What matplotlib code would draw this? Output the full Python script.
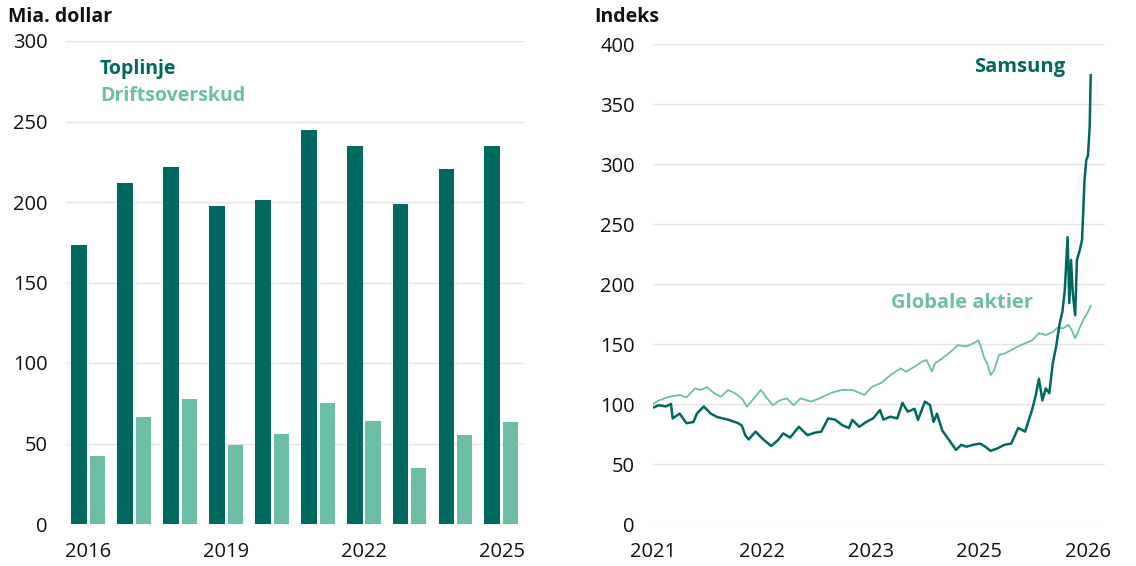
import matplotlib
matplotlib.use("Agg")
import matplotlib.pyplot as plt
import numpy as np

plt.rcParams['font.family'] = ['Open Sans', 'DejaVu Sans']

# ---------------- data ----------------
years = [2016, 2017, 2018, 2019, 2020, 2021, 2022, 2023, 2024, 2025]
year_ticks = ["2016", "2019", "2022", "2025"]
toplinje = [173.5, 211.5, 221.5, 197.5, 201, 244.5, 234.5, 198.5, 220.5, 234.5]
driftsoverskud = [42.5, 66.5, 77.5, 49, 56, 75, 64, 34.5, 55, 63.5]

# right panel: months since start (axis spans 60 months)
line_ticks = ["2021", "2022", "2023", "2025", "2026"]
samsung_t = [0, 0.81, 1.76, 2.48, 2.71, 3.67, 4.62, 5.57, 6.05, 7.0, 7.95, 8.9,
             10.33, 11.76, 12.24, 12.71, 13.19, 14.14, 15.1, 16.29, 17.24, 17.95,
             18.9, 20.1, 21.29, 22.24, 23.19, 24.14, 25.1, 26.05, 27.0, 27.48,
             28.43, 29.38, 30.33, 31.29, 31.76, 32.71, 33.67, 34.38, 35.1, 36.05,
             36.52, 37.48, 38.19, 38.67, 39.14, 39.86, 40.81, 41.76, 42.48, 43.19,
             44.14, 45.1, 45.81, 46.52, 47.48, 48.43, 49.38, 50.33, 51.29, 52.24,
             52.71, 53.19, 53.67, 54.14, 54.62, 55.1, 55.57, 56.05, 56.43, 56.76,
             57.14, 57.38, 57.62, 57.86, 58.19, 58.43, 58.81, 59.14, 59.48, 59.71,
             59.95, 60.19, 60.33]
samsung = [97, 99, 98, 100, 88, 92, 84, 85, 92, 98, 92, 89,
           87, 84, 82, 74, 70.5, 77, 71, 65, 70, 75.5,
           72, 81, 74, 76, 77, 88, 87, 82.5, 80, 86.7,
           81, 85, 88, 95, 87, 89.4, 88, 101, 93.6, 96,
           86.7, 102, 99, 85, 92, 78, 70, 61.7, 66, 64.4,
           66, 67, 64.4, 61, 63, 66, 67, 80, 77, 95,
           106, 121, 103, 113, 109, 134, 148, 167, 177, 195,
           239, 184, 220, 192, 174, 220, 228, 237, 287, 303,
           307, 331, 374]
globale_t = [0, 0.81, 2.24, 3.67, 4.62, 5.81, 6.52, 7.48, 8.43, 9.38, 10.33,
             11.29, 12.24, 12.95, 13.9, 14.86, 15.57, 16.52, 17.48, 18.43, 19.38,
             20.33, 21.76, 22.95, 24.62, 26.05, 27.48, 29.14, 30.1, 31.52, 32.71,
             34.14, 34.86, 36.05, 37.0, 37.71, 38.43, 38.9, 39.86, 41.05, 42.0,
             43.19, 44.14, 44.86, 45.33, 45.67, 46.05, 46.52, 47.0, 47.71, 48.43,
             49.38, 50.33, 51.29, 52.24, 53.19, 54.14, 55.1, 55.81, 56.52, 57.24,
             57.71, 58.19, 58.67, 59.38, 59.86, 60.33]
globale = [100, 103, 106, 107.5, 105.5, 113, 111.7, 114, 109, 106, 111.7,
           109, 104.7, 97.8, 104.7, 111.7, 106, 99, 103, 104.7, 99,
           104.7, 102, 104.7, 109.4, 111.7, 111.7, 107.5, 114, 117.8, 124,
           129.7, 126.9, 131, 135, 136.7, 127, 134, 138, 143.6, 149,
           148, 150.6, 153, 145, 138, 134, 124, 128, 141, 142,
           145, 148, 150.6, 153, 159, 157.5, 160, 164, 163, 166,
           161.7, 154.7, 161.7, 171, 175.6, 181.7]

DARK = "#00695f"
LIGHT = "#6cbfa6"
GRID = "#e4e4e4"
TXT = "#111111"

fig = plt.figure(figsize=(11.36, 5.66), dpi=100)
axL = fig.add_axes([66/1136, 42/566, 458/1136, 483/566])
axR = fig.add_axes([653/1136, 42/566, 452/1136, 480/566])

for ax in (axL, axR):
    for s in ax.spines.values():
        s.set_visible(False)
    ax.tick_params(length=0, labelsize=14.5, colors=TXT, pad=13)
    ax.yaxis.grid(True, color=GRID, linewidth=1)
    ax.set_axisbelow(True)

# left bars
x = np.arange(len(years))
axL.bar(x - 0.2, toplinje, width=0.345, color=DARK)
axL.bar(x + 0.2, driftsoverskud, width=0.33, color=LIGHT)
axL.set_xlim(-0.49, len(years) - 0.51)
axL.set_ylim(0, 300)
axL.set_yticks([0, 50, 100, 150, 200, 250, 300])
axL.set_xticks([years.index(int(y)) for y in year_ticks])
axL.set_xticklabels(year_ticks)
axL.text(0.074, 0.942, "Toplinje", transform=axL.transAxes, color=DARK,
         fontsize=14, fontweight="bold", va="center", ha="left")
axL.text(0.074, 0.886, "Driftsoverskud", transform=axL.transAxes, color=LIGHT,
         fontsize=14, fontweight="bold", va="center", ha="left")

# right lines
axR.plot(globale_t, globale, color=LIGHT, linewidth=1.3)
axR.plot(samsung_t, samsung, color=DARK, linewidth=1.8)
axR.set_xlim(0, 62.3)
axR.set_ylim(0, 400)
axR.set_yticks([0, 50, 100, 150, 200, 250, 300, 350, 400])
axR.set_xticks([0, 15, 30, 45, 60])
axR.set_xticklabels(line_ticks)
axR.text(0.812, 0.952, "Samsung", transform=axR.transAxes, color=DARK,
         fontsize=14.5, fontweight="bold", va="center", ha="center")
axR.text(0.684, 0.46, "Globale aktier", transform=axR.transAxes, color=LIGHT,
         fontsize=14.5, fontweight="bold", va="center", ha="center")

fig.text(8/1136, 1 - 17/566, "Mia. dollar", fontsize=14, fontweight="bold",
         color=TXT, va="center", ha="left")
fig.text(594/1136, 1 - 17/566, "Indeks", fontsize=14, fontweight="bold",
         color=TXT, va="center", ha="left")

fig.savefig("out.png", dpi=100)
